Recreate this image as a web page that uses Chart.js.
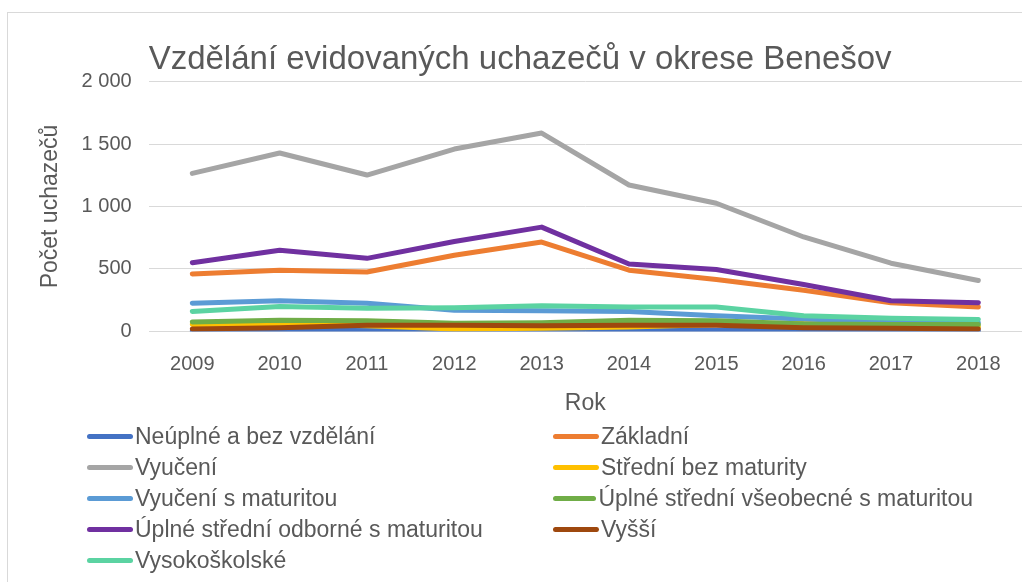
<!DOCTYPE html>
<html lang="cs">
<head>
<meta charset="utf-8">
<title>Vzdělání evidovaných uchazečů v okrese Benešov</title>
<script src="https://cdn.jsdelivr.net/npm/chart.js@4/dist/chart.umd.min.js"></script>
<style>
  html, body { margin: 0; padding: 0; background: #fff; }
  #wrap { position: relative; width: 1022px; height: 582px; overflow: hidden; }
  #frame { position: absolute; left: 7px; top: 12px; width: 1100px; height: 700px; border: 1px solid #d9d9d9; }
  #chart { position: absolute; left: 0; top: 0; }
  #legend { position: absolute; left: 87px; top: 421px; display: grid; grid-template-columns: 466px 420px; }
  .item { display: flex; align-items: center; height: 31px; font: 23px "Liberation Sans", Arial, sans-serif; color: #595959; white-space: nowrap; }
  .swatch { width: 46px; height: 5px; border-radius: 3px; margin-right: 2px; }
</style>
</head>
<body>
<div id="wrap">
  <div id="frame"></div>
  <canvas id="chart" width="1022" height="582"></canvas>
  <div id="legend"></div>
</div>
<script>
// data
const years = ["2009", "2010", "2011", "2012", "2013", "2014", "2015", "2016", "2017", "2018"];
const yTickLabels = ["0", "500", "1 000", "1 500", "2 000"];

const neuplne      = [5, 10, 10, 10, 10, 10, 10, 8, 5, 5];
const zakladni     = [460, 490, 475, 610, 715, 490, 415, 330, 230, 195];
const vyuceni      = [1265, 1428, 1252, 1460, 1588, 1172, 1026, 756, 546, 408];
const stredniBez   = [55, 60, 45, 20, 25, 35, 55, 70, 45, 35];
const vyucMat      = [225, 245, 225, 170, 165, 160, 125, 100, 80, 70];
const uplneVseob   = [75, 90, 85, 65, 70, 90, 85, 60, 55, 55];
const uplneOdb     = [550, 650, 585, 720, 835, 540, 495, 375, 245, 230];
const vyssi        = [20, 30, 50, 50, 45, 50, 50, 30, 25, 20];
const vysokoskolske = [160, 200, 185, 190, 205, 195, 195, 125, 105, 95];

const seriesNames = [
  "Neúplné a bez vzdělání", "Základní", "Vyučení", "Střední bez maturity",
  "Vyučení s maturitou", "Úplné střední všeobecné s maturitou",
  "Úplné střední odborné s maturitou", "Vyšší", "Vysokoškolské"
];
const seriesData = [neuplne, zakladni, vyuceni, stredniBez, vyucMat, uplneVseob, uplneOdb, vyssi, vysokoskolske];
const seriesColors = ["#4472C4", "#ED7D31", "#A5A5A5", "#FFC000", "#5B9BD5", "#70AD47", "#7030A0", "#9E480E", "#5BD3A2"];

const textColor = "#595959";
const fontFamily = '"Liberation Sans", Arial, sans-serif';

// later series sit on top, like in Excel
const datasets = seriesNames.map((name, i) => ({
  label: name,
  data: seriesData[i],
  borderColor: seriesColors[i],
  backgroundColor: seriesColors[i],
  borderWidth: 5,
  pointRadius: 0,
  pointHoverRadius: 0,
  tension: 0,
  borderJoinStyle: "round",
  borderCapStyle: "round",
  order: seriesNames.length - i,
}));

new Chart(document.getElementById("chart").getContext("2d"), {
  type: "line",
  data: { labels: years, datasets },
  options: {
    responsive: false,
    animation: false,
    layout: { padding: { left: 33, right: 0, top: 0, bottom: 161 } },
    plugins: {
      legend: { display: false },
      tooltip: { enabled: false },
      title: {
        display: true,
        text: "Vzdělání evidovaných uchazečů v okrese Benešov",
        align: "start",
        fullSize: false,
        color: textColor,
        font: { family: fontFamily, size: 33, weight: "normal" },
        padding: { top: 40, bottom: 2 },
      },
    },
    scales: {
      x: {
        offset: true,
        grid: { display: false },
        border: { display: false },
        ticks: { color: textColor, font: { family: fontFamily, size: 20 }, padding: 13, maxRotation: 0 },
        title: { display: true, text: "Rok", color: textColor, font: { family: fontFamily, size: 23 }, padding: { top: 0 } },
      },
      y: {
        min: 0,
        max: 2000,
        grid: { color: "#d9d9d9", drawTicks: false },
        border: { display: false },
        ticks: {
          stepSize: 500,
          color: textColor,
          font: { family: fontFamily, size: 20 },
          padding: 17,
          callback: (value, index) => yTickLabels[index],
        },
        title: { display: true, text: "Počet uchazečů", color: textColor, font: { family: fontFamily, size: 23 }, padding: { top: 4, bottom: 0 } },
      },
    },
  },
});

// two-column legend like the original
const legendEl = document.getElementById("legend");
seriesNames.forEach((name, i) => {
  const item = document.createElement("div");
  item.className = "item";
  item.innerHTML = `<span class="swatch" style="background:${seriesColors[i]}"></span><span>${name}</span>`;
  legendEl.appendChild(item);
});
</script>
</body>
</html>
